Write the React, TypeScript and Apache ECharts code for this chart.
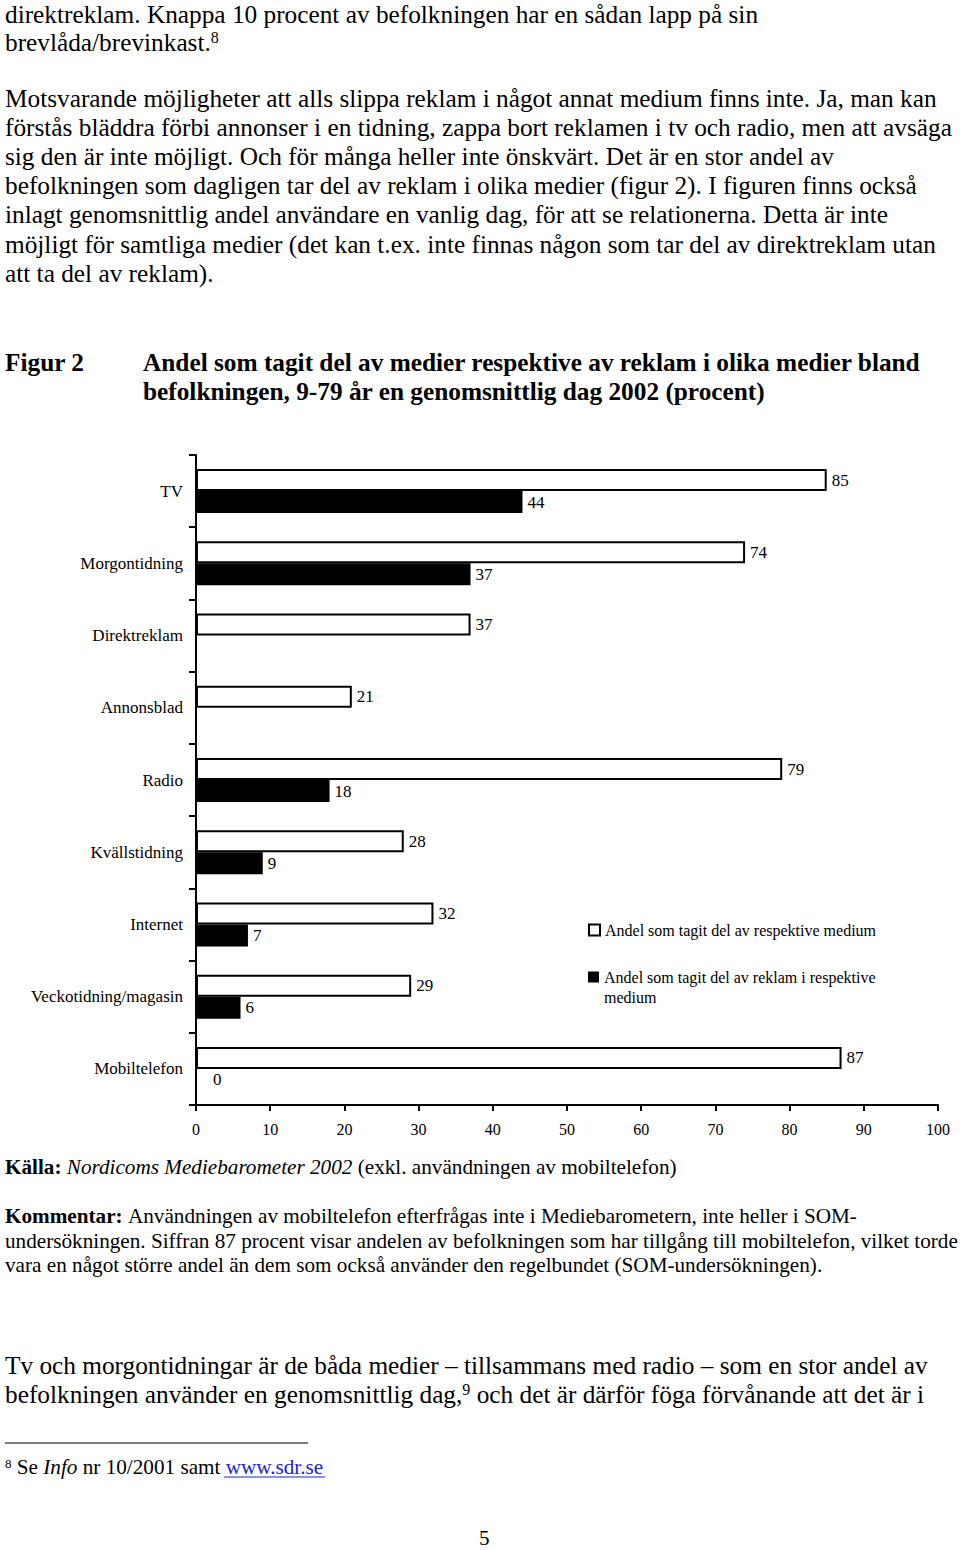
import React, { useEffect, useRef } from "react";
import * as echarts from "echarts";

const categories = [
  "TV",
  "Morgontidning",
  "Direktreklam",
  "Annonsblad",
  "Radio",
  "Kvällstidning",
  "Internet",
  "Veckotidning/magasin",
  "Mobiltelefon",
];
const mediumValues = [85, 74, 37, 21, 79, 28, 32, 29, 87];
const reklamValues: (number | null)[] = [44, 37, null, null, 18, 9, 7, 6, 0];
const seriesNames = [
  "Andel som tagit del av respektive medium",
  "Andel som tagit del av reklam i respektive medium",
];

const SERIF = '"Liberation Serif", "Times New Roman", serif';

function richStyles(size: number) {
  return {
    n: { fontSize: size, fontFamily: SERIF, fill: "#000" },
    b: { fontSize: size, fontFamily: SERIF, fontWeight: "bold", fill: "#000" },
    i: { fontSize: size, fontFamily: SERIF, fontStyle: "italic", fill: "#000" },
    sup: { fontSize: Math.round(size * 0.62), fontFamily: SERIF, fill: "#000", verticalAlign: "top" },
    link: { fontSize: size, fontFamily: SERIF, fill: "#2323c8" },
  };
}

function txt(x: number, y: number, text: string, size: number, weight = "normal") {
  return {
    type: "text",
    x,
    y,
    style: {
      text,
      fontSize: size,
      fontFamily: SERIF,
      fontWeight: weight,
      fill: "#000",
      verticalAlign: "middle",
      rich: richStyles(size),
    },
  };
}

const BODY = 25.3;
const SMALL = 21.2;

export default function App() {
  const ref = useRef<HTMLDivElement>(null);
  useEffect(() => {
    if (!ref.current) return;
    const chart = echarts.init(ref.current, null, { renderer: "svg" });
    const labelBase = {
      show: true,
      position: "right",
      distance: 5,
      color: "#000",
      fontSize: 17,
      fontFamily: SERIF,
    };
    const elements: any[] = [
      txt(5, 14, "direktreklam. Knappa 10 procent av befolkningen har en sådan lapp på sin", BODY),
      txt(5, 42, "{n|brevlåda/brevinkast.}{sup|8}", BODY),
      txt(5, 98, "Motsvarande möjligheter att alls slippa reklam i något annat medium finns inte. Ja, man kan", BODY),
      txt(5, 127, "förstås bläddra förbi annonser i en tidning, zappa bort reklamen i tv och radio, men att avsäga", BODY),
      txt(5, 156, "sig den är inte möjligt. Och för många heller inte önskvärt. Det är en stor andel av", BODY),
      txt(5, 185, "befolkningen som dagligen tar del av reklam i olika medier (figur 2). I figuren finns också", BODY),
      txt(5, 214, "inlagt genomsnittlig andel användare en vanlig dag, för att se relationerna. Detta är inte", BODY),
      txt(5, 244, "möjligt för samtliga medier (det kan t.ex. inte finnas någon som tar del av direktreklam utan", BODY),
      txt(5, 273, "att ta del av reklam).", BODY),
      txt(5, 362, "Figur 2", BODY, "bold"),
      txt(143, 362, "Andel som tagit del av medier respektive av reklam i olika medier bland", BODY, "bold"),
      txt(143, 391, "befolkningen, 9-79 år en genomsnittlig dag 2002 (procent)", BODY, "bold"),
      txt(5, 1167, "{b|Källa:} {i|Nordicoms Mediebarometer 2002} {n|(exkl. användningen av mobiltelefon)}", SMALL),
      txt(5, 1216, "{b|Kommentar:} {n|Användningen av mobiltelefon efterfrågas inte i Mediebarometern, inte heller i SOM-}", SMALL),
      txt(5, 1241, "undersökningen. Siffran 87 procent visar andelen av befolkningen som har tillgång till mobiltelefon, vilket torde", SMALL),
      txt(5, 1265, "vara en något större andel än dem som också använder den regelbundet (SOM-undersökningen).", SMALL),
      txt(5, 1365, "Tv och morgontidningar är de båda medier – tillsammans med radio – som en stor andel av", BODY),
      txt(5, 1394, "{n|befolkningen använder en genomsnittlig dag,}{sup|9}{n| och det är därför föga förvånande att det är i}", BODY),
      {
        type: "line",
        shape: { x1: 5, y1: 1443, x2: 308, y2: 1443 },
        style: { stroke: "#000", lineWidth: 1 },
      },
      txt(5, 1467, "{sup|8}{n| Se }{i|Info}{n| nr 10/2001 samt }{link|www.sdr.se}", SMALL),
      {
        type: "line",
        shape: { x1: 224, y1: 1477, x2: 325, y2: 1477 },
        style: { stroke: "#2323c8", lineWidth: 1 },
      },
      txt(479, 1538, "5", SMALL),
    ];

    chart.setOption({
      animation: false,
      grid: { left: 196, top: 455, width: 742, height: 650, containLabel: false },
      legend: [
        {
          data: [{ name: seriesNames[0], icon: "rect" }],
          left: 588,
          top: 920,
          padding: 0,
          itemWidth: 11,
          itemHeight: 11,
          selectedMode: false,
          textStyle: { fontSize: 16, fontFamily: SERIF, color: "#000", lineHeight: 20 },
        },
        {
          data: [{ name: seriesNames[1], icon: "path://M0,0H11V11H0Z M0,31L11,31" }],
          left: 588,
          top: 967,
          padding: 0,
          itemWidth: 11,
          itemHeight: 31,
          selectedMode: false,
          formatter: () => "Andel som tagit del av reklam i respektive\nmedium",
          textStyle: { fontSize: 16, fontFamily: SERIF, color: "#000", lineHeight: 20 },
        },
      ],
      xAxis: {
        type: "value",
        min: 0,
        max: 100,
        interval: 10,
        axisLine: { show: true, lineStyle: { color: "#000", width: 2 } },
        axisTick: { show: true, length: 6, lineStyle: { color: "#000", width: 2 } },
        splitLine: { show: false },
        axisLabel: { color: "#000", fontSize: 16, fontFamily: SERIF, margin: 16 },
      },
      yAxis: {
        type: "category",
        inverse: true,
        data: categories,
        axisLine: { show: true, lineStyle: { color: "#000", width: 2 } },
        axisTick: { show: true, length: 7, lineStyle: { color: "#000", width: 2 } },
        axisLabel: { color: "#000", fontSize: 17, fontFamily: SERIF, margin: 13 },
      },
      series: [
        {
          name: seriesNames[0],
          type: "bar",
          barWidth: 22,
          barGap: "0%",
          data: mediumValues,
          itemStyle: { color: "#fff", borderColor: "#000", borderWidth: 2 },
          label: labelBase,
        },
        {
          name: seriesNames[1],
          type: "bar",
          barWidth: 22,
          barGap: "0%",
          data: reklamValues.map((v) =>
            v === 0 ? { value: v, label: { offset: [12, 0] } } : v
          ),
          itemStyle: { color: "#000" },
          label: labelBase,
        },
      ],
      graphic: { elements },
    });
    return () => chart.dispose();
  }, []);
  return (
    <div
      ref={ref}
      style={{ position: "absolute", left: 0, top: 0, width: 960, height: 1550, background: "#fff" }}
    />
  );
}
